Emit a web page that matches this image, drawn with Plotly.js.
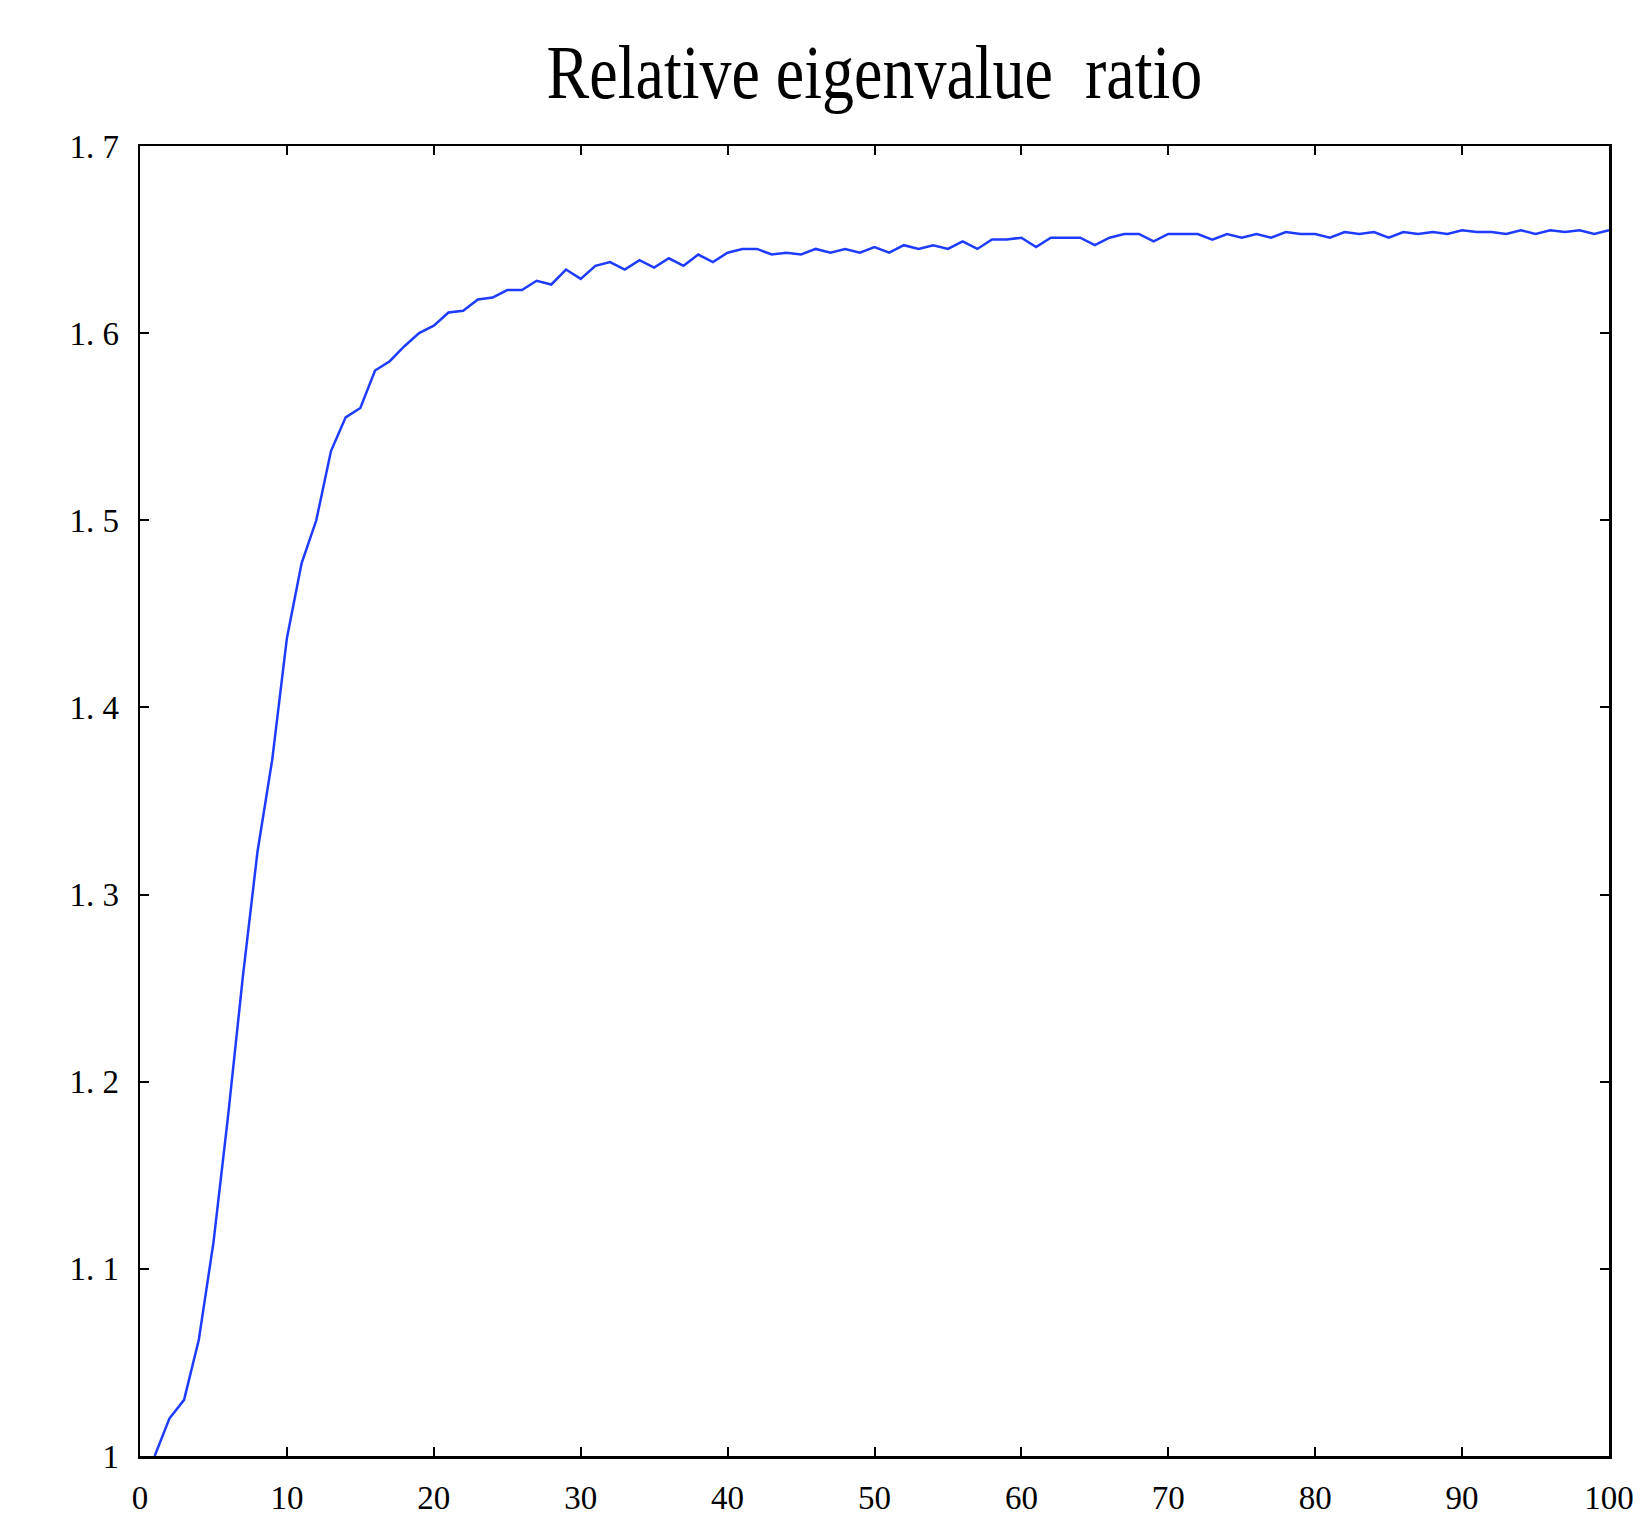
<!DOCTYPE html>
<html>
<head>
<meta charset="utf-8">
<script src="https://cdn.plot.ly/plotly-3.0.1.min.js"></script>
<style>html,body{margin:0;padding:0;background:#fff;}#chart{width:1633px;height:1518px;}</style>
</head>
<body>
<div id="chart"></div>
<script>
const iterations = [];
for (let i = 1; i <= 100; i++) iterations.push(i);
const ratio = [
  1.000, 1.020, 1.030, 1.062, 1.114, 1.182, 1.256, 1.323, 1.372, 1.437,
  1.477, 1.500, 1.537, 1.555, 1.560, 1.580, 1.585, 1.593, 1.600, 1.604,
  1.611, 1.612, 1.618, 1.619, 1.623, 1.623, 1.628, 1.626, 1.634, 1.629,
  1.636, 1.638, 1.634, 1.639, 1.635, 1.640, 1.636, 1.642, 1.638, 1.643,
  1.645, 1.645, 1.642, 1.643, 1.642, 1.645, 1.643, 1.645, 1.643, 1.646,
  1.643, 1.647, 1.645, 1.647, 1.645, 1.649, 1.645, 1.650, 1.650, 1.651,
  1.646, 1.651, 1.651, 1.651, 1.647, 1.651, 1.653, 1.653, 1.649, 1.653,
  1.653, 1.653, 1.650, 1.653, 1.651, 1.653, 1.651, 1.654, 1.653, 1.653,
  1.651, 1.654, 1.653, 1.654, 1.651, 1.654, 1.653, 1.654, 1.653, 1.655,
  1.654, 1.654, 1.653, 1.655, 1.653, 1.655, 1.654, 1.655, 1.653, 1.655
];
const xTickVals = [0, 10, 20, 30, 40, 50, 60, 70, 80, 90, 100];
const xTickText = ["0", "10", "20", "30", "40", "50", "60", "70", "80", "90", "100"];
const yTickVals = [1, 1.1, 1.2, 1.3, 1.4, 1.5, 1.6, 1.7];
const yTickText = ["1", "1. 1", "1. 2", "1. 3", "1. 4", "1. 5", "1. 6", "1. 7"];
const chartTitle = "Relative eigenvalue  ratio";

const tickFont = {family: "Liberation Serif, Times New Roman, serif", size: 33, color: "#000"};

Plotly.newPlot("chart", [{
  x: iterations,
  y: ratio,
  type: "scatter",
  mode: "lines",
  line: {color: "rgb(30,60,255)", width: 2.5},
  hoverinfo: "skip"
}], {
  width: 1633,
  height: 1518,
  paper_bgcolor: "#fff",
  plot_bgcolor: "#fff",
  showlegend: false,
  margin: {l: 140, r: 24, t: 146, b: 62, pad: 0},
  title: {
    text: chartTitle,
    font: {family: "Liberation Serif, Times New Roman, serif", size: 64, color: "#000"},
    x: 0.5355, xanchor: "center",
    y: 0.953, yanchor: "middle"
  },
  xaxis: {
    range: [0, 100],
    tickvals: xTickVals,
    ticktext: xTickText,
    ticks: "inside",
    ticklen: 9,
    tickwidth: 2,
    tickcolor: "#000",
    showline: true,
    linecolor: "#000",
    linewidth: 2.5,
    mirror: "ticks",
    showgrid: false,
    zeroline: false,
    tickfont: tickFont,
    ticklabelstandoff: 11,
    ticklabeloverflow: "allow"
  },
  yaxis: {
    range: [1, 1.7],
    tickvals: yTickVals,
    ticktext: yTickText,
    ticks: "inside",
    ticklen: 9,
    tickwidth: 2,
    tickcolor: "#000",
    showline: true,
    linecolor: "#000",
    linewidth: 2.5,
    mirror: "ticks",
    showgrid: false,
    zeroline: false,
    tickfont: tickFont,
    ticklabelstandoff: 12,
    ticklabeloverflow: "allow"
  }
}, {staticPlot: true}).then(function (gd) {
  gd.querySelectorAll(".gtitle").forEach(function (t) {
    t.style.transformBox = "fill-box";
    t.style.transformOrigin = "center";
    t.style.transform = "scale(1, 1.2)";
  });
});
</script>
</body>
</html>
